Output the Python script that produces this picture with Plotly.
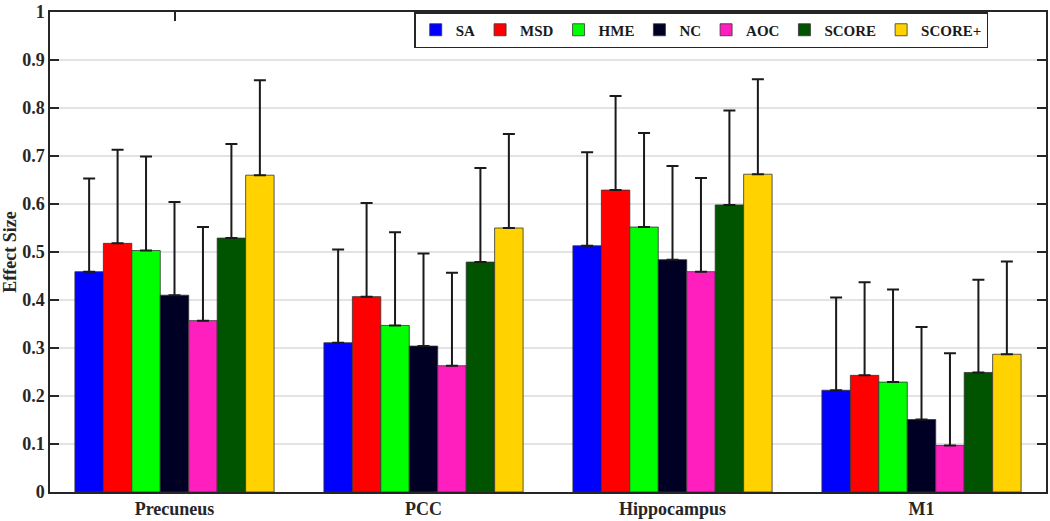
import plotly.graph_objects as go

categories = ["Precuneus", "PCC", "Hippocampus", "M1"]
methods = ["SA", "MSD", "HME", "NC", "AOC", "SCORE", "SCORE+"]
colors = ["#0000ff", "#ff0000", "#00ff00", "#000024", "#ff1ebe", "#005400", "#ffd200"]

SA = [0.459, 0.311, 0.513, 0.212]
MSD = [0.518, 0.407, 0.629, 0.243]
HME = [0.503, 0.347, 0.552, 0.229]
NC = [0.410, 0.304, 0.484, 0.151]
AOC = [0.357, 0.263, 0.459, 0.097]
SCORE = [0.529, 0.479, 0.598, 0.249]
SCORE_PLUS = [0.660, 0.550, 0.662, 0.287]

SA_err = [0.194, 0.194, 0.195, 0.193]
MSD_err = [0.195, 0.195, 0.196, 0.194]
HME_err = [0.196, 0.194, 0.196, 0.193]
NC_err = [0.194, 0.193, 0.195, 0.193]
AOC_err = [0.195, 0.194, 0.195, 0.192]
SCORE_err = [0.196, 0.196, 0.197, 0.193]
SCORE_PLUS_err = [0.198, 0.196, 0.198, 0.193]

values = [SA, MSD, HME, NC, AOC, SCORE, SCORE_PLUS]
errors = [SA_err, MSD_err, HME_err, NC_err, AOC_err, SCORE_err, SCORE_PLUS_err]

yticks = [0, 0.1, 0.2, 0.3, 0.4, 0.5, 0.6, 0.7, 0.8, 0.9, 1]
ytick_labels = ["0", "0.1", "0.2", "0.3", "0.4", "0.5", "0.6", "0.7", "0.8", "0.9", "1"]

xpos = [1, 2, 3, 4]
font_family = "Liberation Serif, Times New Roman, serif"

fig = go.Figure()
for name, vals, errs, col in zip(methods, values, errors, colors):
    fig.add_trace(go.Bar(
        name=name, x=xpos, y=vals,
        marker=dict(color=col, line=dict(color="#333333", width=0.8)),
        error_y=dict(type="data", symmetric=False, array=errs,
                     arrayminus=[0] * len(errs),
                     color="#1a1a1a", thickness=2, width=6),
    ))

fig.update_layout(
    barmode="group", bargap=0.2, bargroupgap=0,
    width=1050, height=521,
    margin=dict(l=50, r=2, t=7, b=27),
    plot_bgcolor="white", paper_bgcolor="white",
    font=dict(family=font_family, size=18, color="#262626"),
    showlegend=True,
    legend=dict(
        orientation="h", x=0.942, xanchor="right", y=1.0, yanchor="top",
        bgcolor="white", bordercolor="#262626", borderwidth=1.5,
        font=dict(family=font_family, size=15, color="#1a1a1a", weight="bold"),
        itemwidth=30, tracegroupgap=0,
    ),
    xaxis=dict(
        range=[0.5, 4.5], tickmode="array", tickvals=xpos, ticktext=categories,
        showline=True, linecolor="#262626", linewidth=1.5, mirror="ticks",
        ticks="inside", ticklen=9, tickcolor="#262626", tickwidth=1.5,
        showgrid=False, zeroline=False, layer="below traces",
        ticklabeloverflow="allow",
        tickfont=dict(family=font_family, size=18, color="#262626", weight="bold"),
    ),
    yaxis=dict(
        range=[0, 1], tickmode="array", tickvals=yticks, ticktext=ytick_labels,
        showline=True, linecolor="#262626", linewidth=1.5, mirror="ticks",
        ticks="inside", ticklen=9, tickcolor="#262626", tickwidth=1.5,
        showgrid=True, gridcolor="#e3e3e3", gridwidth=1.5, zeroline=False,
        layer="below traces", ticklabeloverflow="allow",
        tickfont=dict(family=font_family, size=18, color="#262626", weight="bold"),
        title=dict(text="Effect Size", standoff=8,
                   font=dict(family=font_family, size=18, color="#262626", weight="bold")),
    ),
)

fig.write_html("out.html", config={"displayModeBar": False},
               post_script="document.body.style.margin='0';")
